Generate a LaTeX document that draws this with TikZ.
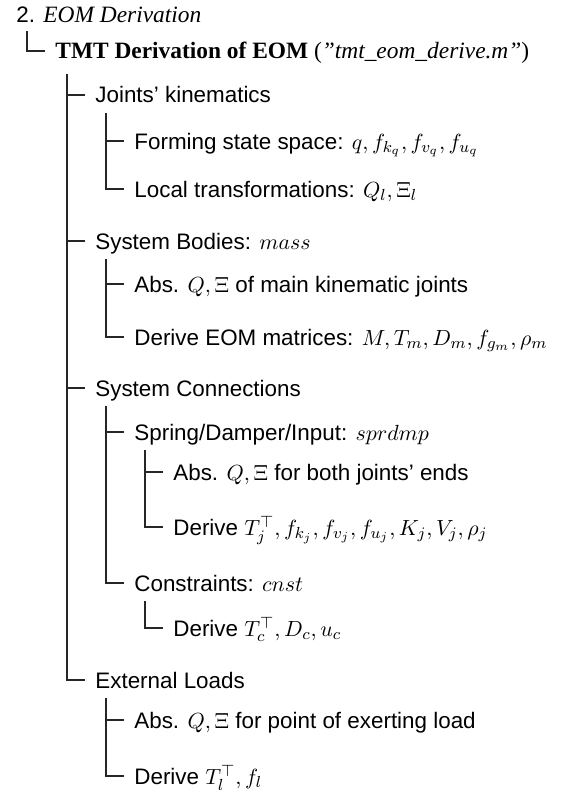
\documentclass[tikz,border=0pt]{standalone}
\usepackage{amsmath,amssymb}
\usepackage{fontspec}
\setmainfont{Liberation Serif}
\setsansfont{Liberation Sans}
\usepackage{tikz}
\usetikzlibrary{positioning}
\tikzset{
  item/.style={anchor=west, inner sep=0pt, text height=8pt, text depth=0pt,
    font=\sffamily\fontsize{11.2}{13}\selectfont},
  headitem/.style={item, font=\rmfamily\fontsize{11.7}{13}\selectfont},
  branch/.style={draw=black!85, line width=0.7pt, shorten >=5pt},
}

\begin{document}
\begin{tikzpicture}[x=0.5pt,y=-0.5pt]
  \useasboundingbox (0,0) rectangle (565,792);
  % root and title
  \node[item] (top) at (16,15) {2. {\rmfamily\itshape\fontsize{11.7}{13}\selectfont EOM Derivation}};
  \node[headitem] (tmt) at (55,51) {\textbf{TMT Derivation of EOM} (\textit{”tmt\_eom\_derive.m”})};
  % first level
  \node[item] (joints) at (95,95) {Joints' kinematics};
  \node[item] (bodies) at (95,241) {System Bodies: $mass$};
  \node[item] (conn) at (95,388) {System Connections};
  \node[item] (loads) at (95,680) {External Loads};
  % second level
  \node[item] (forming) at (134,141) {Forming state space: $q,f_{k_q},f_{v_q},f_{u_q}$};
  \node[item] (local) at (134,189) {Local transformations: $Q_l,\Xi_l$};
  \node[item] (absmain) at (134,284) {Abs. $Q,\Xi$ of main kinematic joints};
  \node[item] (eom) at (134,337) {Derive EOM matrices: $M,T_m,D_m,f_{g_m},\rho_m$};
  \node[item] (sprdmp) at (134,432) {Spring/Damper/Input: $sprdmp$};
  \node[item] (cnst) at (134,583) {Constraints: $cnst$};
  \node[item] (absload) at (134,720) {Abs. $Q,\Xi$ for point of exerting load};
  \node[item] (derivel) at (134,776) {Derive $T_l^\top,f_l$};
  % third level
  \node[item] (absends) at (173,472) {Abs. $Q,\Xi$ for both joints' ends};
  \node[item] (derivej) at (173,527) {Derive $T_j^\top,f_{k_j},f_{v_j},f_{u_j},K_j,V_j,\rho_j$};
  \node[item] (derivec) at (173,628) {Derive $T_c^\top,D_c,u_c$};
  % connectors
  \draw[branch] ([xshift=5.5pt,yshift=-8pt]top.west) |- (tmt.west);
  \foreach \c in {joints,bodies,conn,loads}
    \draw[branch] ([xshift=6pt,yshift=-11.5pt]tmt.west) |- (\c.west);
  \foreach \p/\c in {joints/forming,joints/local,bodies/absmain,bodies/eom,
      conn/sprdmp,conn/cnst,loads/absload,loads/derivel,
      sprdmp/absends,sprdmp/derivej,cnst/derivec}
    \draw[branch] ([xshift=5.5pt,yshift=-9pt]\p.west) |- (\c.west);
\end{tikzpicture}
\end{document}
